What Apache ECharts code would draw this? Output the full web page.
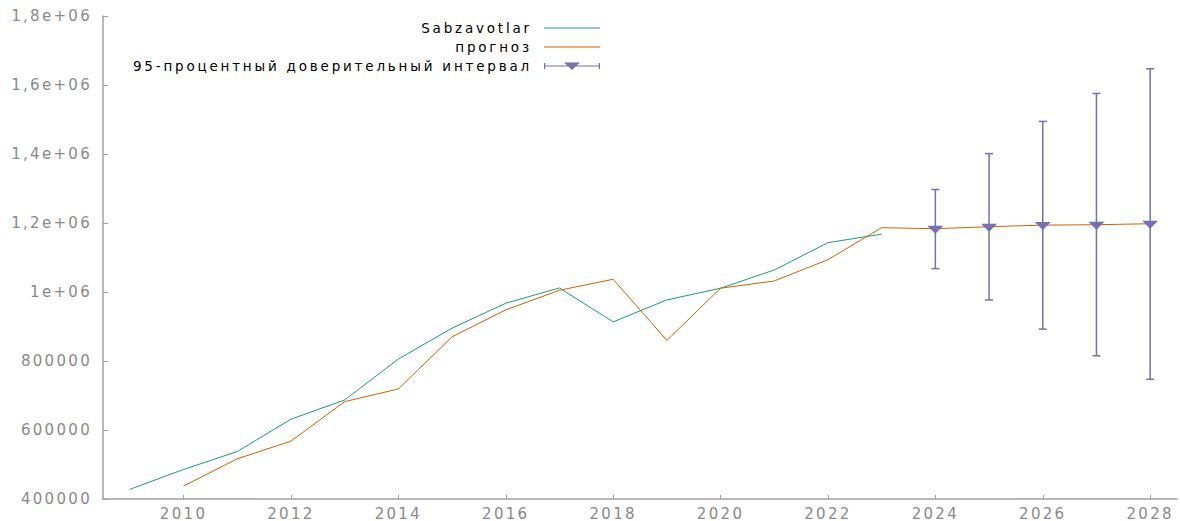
<!DOCTYPE html>
<html>
<head>
<meta charset="utf-8">
<script src="https://cdn.jsdelivr.net/npm/echarts@6/dist/echarts.min.js"></script>
<style>
    html, body { margin: 0; padding: 0; background: #fff; }
    #chart-1 { width: 1180px; height: 521px; }
    #chart-1 text { letter-spacing: 2.3px; }
    #chart-1 text[style*="13.5px"] { letter-spacing: 2.8px; }
</style>
</head>
<body>
<div id="chart-1"></div>
<script>
// observed series
const years = [2009, 2010, 2011, 2012, 2013, 2014, 2015, 2016, 2017, 2018, 2019, 2020, 2021, 2022, 2023];
const sabzavotlar = [428000, 485600, 537600, 631300, 687100, 805600, 895200, 967500, 1011700, 913400, 977000, 1010900, 1063800, 1143000, 1167800];

// forecast (fitted + out of sample)
const forecastYears = [2010, 2011, 2012, 2013, 2014, 2015, 2016, 2017, 2018, 2019, 2020, 2021, 2022, 2023, 2024, 2025, 2026, 2027, 2028];
const prognoz = [437600, 516500, 567700, 682200, 718900, 870100, 948100, 1005100, 1036900, 859700, 1010900, 1032000, 1093800, 1186400, 1183500, 1189200, 1193900, 1195000, 1197900];

// 95% interval
const ciYears = [2024, 2025, 2026, 2027, 2028];
const ciCenter = [1183500, 1189200, 1193900, 1195000, 1197900];
const ciLow = [1067800, 977000, 892300, 815100, 746900];
const ciHigh = [1297100, 1401200, 1494500, 1575500, 1646900];

const xTickYears = [2010, 2012, 2014, 2016, 2018, 2020, 2022, 2024, 2026, 2028];
const yTickValues = [400000, 600000, 800000, 1000000, 1200000, 1400000, 1600000, 1800000];
const yTickLabels = ['400000', '600000', '800000', '1e+06', '1,2e+06', '1,4e+06', '1,6e+06', '1,8e+06'];

const GREEN = '#1b9e77';
const ORANGE = '#d95f02';
const PURPLE = '#7570b3';
const AXIS = '#a0a0a0';
const LABEL = '#8a8a8a';
const CI_NAME = '95-процентный доверительный интервал';

// legend icons: a plain line, and the interval bar with its triangle
const LINE_ICON = 'path://M0,0 L0,0 M56,10 L56,10 M0,4.5 L56,4.5 L56,5.5 L0,5.5 Z';
const CI_ICON = 'path://M0,0 L0,0 M56,10 L56,10 M0,4.4 L56,4.4 L56,5.6 L0,5.6 Z M0,2 L1.2,2 L1.2,8 L0,8 Z M54.8,2 L56,2 L56,8 L54.8,8 Z M20,1.5 L36,1.5 L28,9 Z';

const TheChart = echarts.init(document.getElementById('chart-1'), null, { renderer: 'svg' });

TheChart.setOption({
    animation: false,
    textStyle: { fontFamily: 'DejaVu Sans' },
    grid: { left: 103, right: 3, top: 16, bottom: 21, containLabel: false },
    legend: {
        orient: 'vertical',
        align: 'right',
        right: 580,
        top: 21,
        padding: 0,
        itemWidth: 56,
        itemHeight: 10,
        itemGap: 5,
        formatter: name => name + ' ',
        textStyle: { fontSize: 13.5, color: '#000', fontFamily: 'DejaVu Sans', lineHeight: 10, padding: [3, 0, 0, 0] },
        data: [
            { name: 'Sabzavotlar', icon: LINE_ICON, itemStyle: { color: GREEN } },
            { name: 'прогноз', icon: LINE_ICON, itemStyle: { color: ORANGE } },
            { name: CI_NAME, icon: CI_ICON, itemStyle: { color: PURPLE } }
        ]
    },
    xAxis: {
        type: 'value',
        min: 2008.5,
        max: 2028.5,
        axisLine: { lineStyle: { color: AXIS, width: 1.5 } },
        axisTick: { inside: true, length: 4, customValues: xTickYears, lineStyle: { color: AXIS } },
        axisLabel: { customValues: xTickYears, color: LABEL, fontSize: 15, margin: 7, formatter: v => String(v) },
        splitLine: { show: false }
    },
    yAxis: {
        type: 'value',
        min: 400000,
        max: 1800000,
        interval: 200000,
        axisLine: { show: true, lineStyle: { color: AXIS, width: 1.5 } },
        axisTick: { show: true, inside: true, length: 5, lineStyle: { color: AXIS } },
        axisLabel: {
            color: LABEL,
            fontSize: 15,
            margin: 11,
            formatter: v => yTickLabels[yTickValues.indexOf(v)] || ''
        },
        splitLine: { show: false }
    },
    series: [
        {
            name: 'Sabzavotlar',
            type: 'line',
            symbol: 'none',
            data: years.map((y, i) => [y, sabzavotlar[i]]),
            lineStyle: { color: GREEN, width: 1 },
            itemStyle: { color: GREEN },
            z: 2
        },
        {
            name: 'прогноз',
            type: 'line',
            symbol: 'none',
            data: forecastYears.map((y, i) => [y, prognoz[i]]),
            lineStyle: { color: ORANGE, width: 1 },
            itemStyle: { color: ORANGE },
            z: 3
        },
        {
            name: CI_NAME,
            type: 'custom',
            data: ciYears.map((y, i) => [y, ciLow[i], ciHigh[i]]),
            encode: { x: 0, y: [1, 2] },
            itemStyle: { color: PURPLE },
            z: 4,
            renderItem: function (params, api) {
                const x = api.value(0);
                const lo = api.coord([x, api.value(1)]);
                const hi = api.coord([x, api.value(2)]);
                const hw = 4;
                const st = { stroke: PURPLE, lineWidth: 1.5 };
                return {
                    type: 'group',
                    children: [
                        { type: 'line', shape: { x1: lo[0], y1: lo[1], x2: hi[0], y2: hi[1] }, style: st },
                        { type: 'line', shape: { x1: hi[0] - hw, y1: hi[1], x2: hi[0] + hw, y2: hi[1] }, style: st },
                        { type: 'line', shape: { x1: lo[0] - hw, y1: lo[1], x2: lo[0] + hw, y2: lo[1] }, style: st }
                    ]
                };
            }
        },
        {
            name: CI_NAME,
            type: 'scatter',
            data: ciYears.map((y, i) => [y, ciCenter[i]]),
            symbol: 'path://M0,0 L16,0 L8,8 Z',
            symbolSize: [16, 8],
            symbolOffset: [0, 1],
            itemStyle: { color: PURPLE, opacity: 1 },
            z: 5
        }
    ]
});
</script>
</body>
</html>
